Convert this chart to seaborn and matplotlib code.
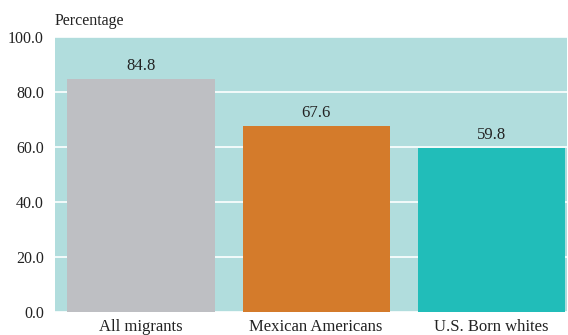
import matplotlib
matplotlib.use("Agg")
import matplotlib.pyplot as plt
import seaborn as sns
import pandas as pd

groups = ["All migrants", "Mexican Americans", "U.S. Born whites"]
values = [84.8, 67.6, 59.8]
colors = ["#bebfc3", "#d47b2b", "#21bdb9"]
yticks = [0, 20, 40, 60, 80, 100]

sns.set_style("white")
plt.rcParams["font.family"] = ["Liberation Serif", "DejaVu Serif"]

df = pd.DataFrame({"group": groups, "value": values})

fig = plt.figure(figsize=(5.68, 3.35), dpi=100)
ax = fig.add_axes([0.0968, 0.0687, 0.9012, 0.8209])
ax.set_facecolor("#b1dddd")

sns.barplot(data=df, x="group", y="value", hue="group", palette=colors,
            width=0.84, saturation=1, legend=False, linewidth=0, ax=ax, zorder=3)

ax.set_ylim(0, 100)
ax.set_xlim(-0.49, 2.43)
ax.set_yticks(yticks)
ax.set_yticklabels([f"{v:.1f}" for v in yticks], fontsize=11.5, color="#222222")
ax.tick_params(axis="x", labelsize=12, colors="#222222", length=0, pad=5)
ax.tick_params(axis="y", length=0, pad=8)
ax.grid(axis="y", color="white", linewidth=1.2, zorder=1)
ax.set_axisbelow(True)
for s in ax.spines.values():
    s.set_visible(False)
ax.set_xlabel("")
ax.set_ylabel("")

for i, v in enumerate(values):
    ax.text(i, v + 1.8, f"{v:.1f}", ha="center", va="bottom", fontsize=12, color="#222222", zorder=4)

fig.text(0.0968, 0.912, "Percentage", fontsize=11.5, color="#222222", ha="left", va="bottom")

fig.savefig("out.png", dpi=100)
